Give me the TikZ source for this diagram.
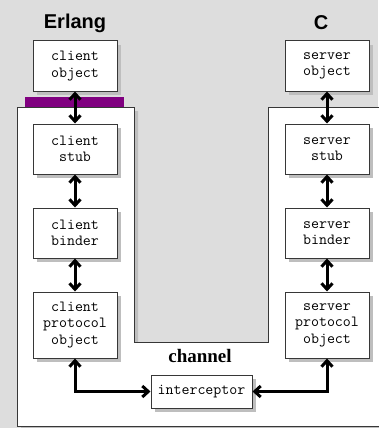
\documentclass[tikz,border=0pt]{standalone}
\usepackage{fontspec}
\newfontfamily\headfont{Liberation Sans}
\newfontfamily\chanfont{Liberation Serif}
\usetikzlibrary{arrows.meta,shadows}
\definecolor{bggray}{RGB}{221,221,221}
\definecolor{shadowgray}{RGB}{190,190,190}
\definecolor{edgegray}{RGB}{55,55,55}
\definecolor{busviolet}{RGB}{128,0,128}
\begin{document}
\begin{tikzpicture}[x=1pt,y=-1pt,
  boxshadow/.style={drop shadow={shadow xshift=4pt,shadow yshift=-4pt,fill=shadowgray,opacity=1}},
  layer/.style={draw=edgegray,line width=1pt,fill=white,boxshadow,
    minimum width=84pt,minimum height=50pt,inner sep=0pt,align=center,
    font=\ttfamily\fontsize{15.5}{16.5}\selectfont},
  tall/.style={minimum height=66pt},
  link/.style={line width=3pt,
    {Straight Barb[length=6pt,width=11pt]}-{Straight Barb[length=6pt,width=11pt]}},
  heading/.style={font=\headfont\bfseries\fontsize{20}{22}\selectfont}]

% page background
\useasboundingbox (0,0) rectangle (378,428);
\fill[bggray] (0,0) rectangle (378,428);

% the U-shaped host area with the channel cut out in the middle
\draw[draw=edgegray,line width=1pt,fill=white,boxshadow]
  (17,107) -- (134,107) -- (134,342) -- (268,342) -- (268,107)
  -- (390,107) -- (390,426) -- (17,426) -- cycle;

% interface bar between the Erlang object and its stub
\fill[busviolet] (25,97) rectangle (124,107);

% headings
\node[heading] (erl) at (75,23) {Erlang};
\node[heading] (cl) at (321,23) {C};
\node[font=\chanfont\bfseries\fontsize{19}{21}\selectfont] (chan) at (200,356) {channel};

% client column
\node[layer] (cobj) at (75,66) {client\\object};
\node[layer] (cstub) at (75,149) {client\\stub};
\node[layer] (cbind) at (75,233) {client\\binder};
\node[layer,tall] (cproto) at (75,325) {client\\protocol\\object};

% server column
\node[layer] (sobj) at (327,66) {server\\object};
\node[layer] (sstub) at (327,149) {server\\stub};
\node[layer] (sbind) at (327,233) {server\\binder};
\node[layer,tall] (sproto) at (327,325) {server\\protocol\\object};

% interceptor on the channel
\node[layer,minimum width=101pt,minimum height=33pt] (icpt) at (201.5,391.5) {interceptor};

% links
\draw[link] (cobj) -- (cstub);
\draw[link] (cstub) -- (cbind);
\draw[link] (cbind) -- (cproto);
\draw[link] (sobj) -- (sstub);
\draw[link] (sstub) -- (sbind);
\draw[link] (sbind) -- (sproto);
\draw[link] (cproto.south) |- (icpt.west);
\draw[link] (icpt.east) -| (sproto.south);
\end{tikzpicture}
\end{document}
